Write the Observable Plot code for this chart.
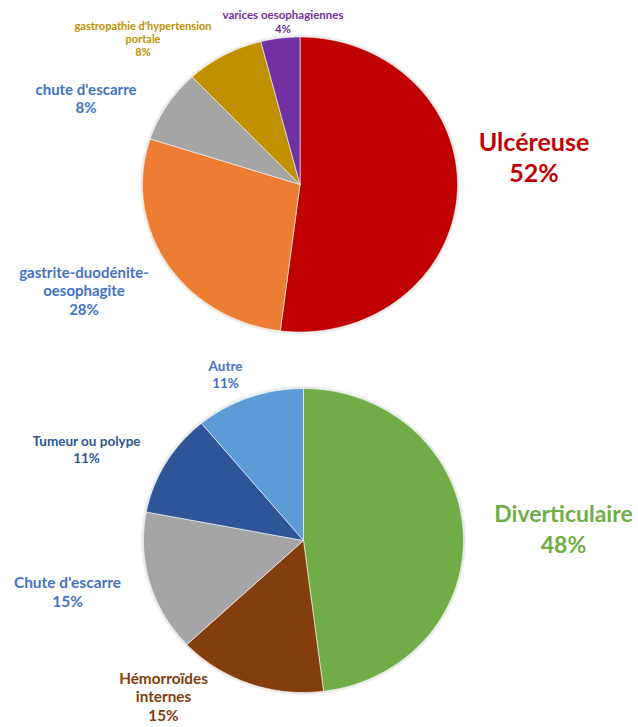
<!DOCTYPE html>
<html><head><meta charset="utf-8">
<script src="https://cdn.jsdelivr.net/npm/d3@7"></script>
<script src="https://cdn.jsdelivr.net/npm/@observablehq/plot@0.6"></script>
<style>
body{margin:0;background:#fff;}
#chart{width:638px;height:727px;}
</style>
</head><body><div id="chart"></div>
<script>
// ---------- DATA ----------
const upperCategories = ["Ulcéreuse", "gastrite-duodénite-\noesophagite", "chute d'escarre", "gastropathie d'hypertension\nportale", "varices oesophagiennes"];
const upperValues = [52, 28, 8, 8, 4];
const lowerCategories = ["Diverticulaire", "Hémorroïdes\ninternes", "Chute d'escarre", "Tumeur ou polype", "Autre"];
const lowerValues = [48, 15, 15, 11, 11];

// ---------- STYLE / LAYOUT ----------
const upperSliceColors = ["#C00000", "#ED7D31", "#A5A5A5", "#BF9000", "#7030A0"];
const upperLabelColors = ["#C00000", "#4472C4", "#4472C4", "#BF9000", "#7030A0"];
const lowerSliceColors = ["#70AD47", "#843C0C", "#A5A5A5", "#2F5597", "#5B9BD5"];
const lowerLabelColors = ["#70AD47", "#843C0C", "#4472C4", "#2F5597", "#4472C4"];
const upperLabelSizes = [25, 15, 15, 11, 11.5];
const lowerLabelSizes = [23, 15.3, 15.5, 13.5, 13.5];
const upperLineHeights = [1.24, 1.23, 1.2, 1.18, 1.22];
const lowerLineHeights = [1.35, 1.2, 1.23, 1.26, 1.26];
// label centres as offsets from pie centre, in pixels
const upperLabelOffsets = [[234, -28], [-216, 106], [-214, -86], [-157, -146], [-17, -163]];
const lowerLabelOffsets = [[260, -13], [-140, 156], [-236, 51], [-217, -91], [-78, -166]];
const pies = [
  {cx: 299.5, cy: 184, rx: 157.5, ry: 147.5, cats: upperCategories, vals: upperValues, colors: upperSliceColors, lcolors: upperLabelColors, sizes: upperLabelSizes, lh: upperLineHeights, offs: upperLabelOffsets},
  {cx: 303, cy: 540, rx: 160, ry: 152, cats: lowerCategories, vals: lowerValues, colors: lowerSliceColors, lcolors: lowerLabelColors, sizes: lowerLabelSizes, lh: lowerLineHeights, offs: lowerLabelOffsets}
];

const W = 638, H = 727;
const font = "Lato, 'Open Sans', sans-serif";

const slicePts = [];
const labelMarks = [];
pies.forEach((p, pi) => {
  const total = d3.sum(p.vals);
  let acc = 0;
  p.vals.forEach((v, i) => {
    const a0 = acc / total * 360, a1 = (acc + v) / total * 360;
    acc += v;
    const key = `p${pi}-${i}`;
    const pts = [{key, fill: p.colors[i], x: p.cx, y: p.cy}];
    const n = Math.max(4, Math.ceil((a1 - a0) * 2));
    for (let k = 0; k <= n; k++) {
      const a = (a0 + (a1 - a0) * k / n) * Math.PI / 180;
      pts.push({key, fill: p.colors[i], x: p.cx + p.rx * Math.sin(a), y: p.cy - p.ry * Math.cos(a)});
    }
    pts.push({key, fill: p.colors[i], x: p.cx, y: p.cy});
    slicePts.push(...pts);
    labelMarks.push(Plot.text([{x: p.cx + p.offs[i][0], y: p.cy + p.offs[i][1], t: `${p.cats[i]}\n${v}%`}], {
      x: "x", y: "y", text: "t", fill: p.lcolors[i], fontSize: p.sizes[i], lineHeight: p.lh[i],
      fontWeight: "bold", fontFamily: font, textAnchor: "middle", lineAnchor: "middle"
    }));
  });
});

const chart = Plot.plot({
  width: W, height: H,
  margin: 0,
  x: {domain: [0, W], range: [0, W], axis: null},
  y: {domain: [0, H], range: [0, H], axis: null},
  color: {type: "identity"},
  style: {background: "#fff", fontFamily: font},
  marks: [
    Plot.line(slicePts, {x: "x", y: "y", z: "key", fill: "fill", stroke: "#fff", strokeWidth: 0.6, curve: "linear", className: "pieslices"}),
    ...labelMarks
  ]
});

// soft shadow around the pies
const ns = "http://www.w3.org/2000/svg";
const defs = document.createElementNS(ns, "defs");
defs.innerHTML = `<filter id="pieShadow" x="-10%" y="-10%" width="120%" height="120%"><feDropShadow dx="0" dy="0" stdDeviation="1.6" flood-color="#000" flood-opacity="0.35"/></filter>`;
chart.insertBefore(defs, chart.firstChild);
const g = chart.querySelector("g.pieslices") || chart.querySelector('g[aria-label="line"]');
if (g) g.setAttribute("filter", "url(#pieShadow)");

document.getElementById("chart").appendChild(chart);
</script>
</body></html>
